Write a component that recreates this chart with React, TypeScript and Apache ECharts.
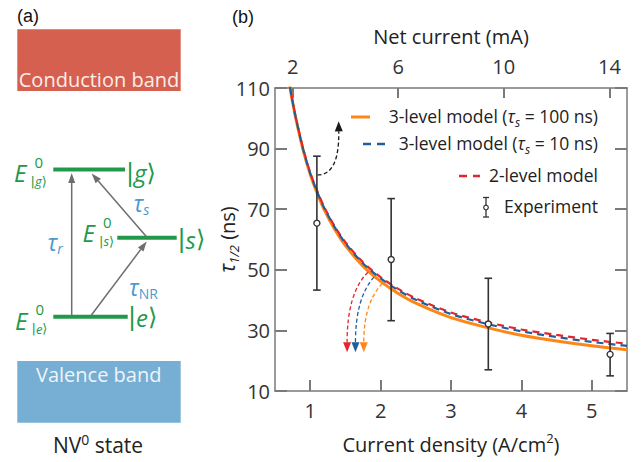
import React, { useEffect, useRef } from "react";
import * as echarts from "echarts";

// ---------- data ----------
const densityTicks = [1, 2, 3, 4, 5]; // bottom axis, A/cm²
const netCurrentTicks = [2, 6, 10, 14]; // top axis, mA
const densityToCurrent = 8 / 3; // mA per A/cm² (paired axes)

const modelDensity = [0.7, 0.75, 0.8, 0.9, 1.0, 1.1, 1.2, 1.35, 1.5, 1.75, 2.0, 2.25, 2.5, 3.0, 3.5, 4.0, 4.5, 5.0, 5.5];
const tauThreeLevel100 = [112, 105.3, 99.5, 89.5, 81.5, 75.2, 69.8, 63.3, 58, 51.2, 46.2, 42.2, 39, 34.2, 31, 28.4, 26.5, 24.9, 23.6];
const tauThreeLevel10 = [112, 105.5, 99.7, 89.8, 81.9, 75.7, 70.4, 64, 58.8, 52.1, 47.2, 43.3, 40.1, 35.4, 32.2, 29.7, 27.8, 26.2, 24.9];
const tauTwoLevel = [112, 105.6, 99.8, 90, 82.1, 76, 70.7, 64.3, 59.1, 52.5, 47.6, 43.7, 40.6, 35.9, 32.8, 30.3, 28.5, 26.9, 25.6];

const expDensity = [1.095, 2.15, 3.53, 5.26];
const expTau = [65.4, 53.4, 32.1, 22.1];
const expLow = [43.3, 33.2, 17, 15];
const expHigh = [87.5, 73.5, 47.2, 29];

// annotation arrows in data coordinates: start, control, tip
const arrowStart = [[1.103, 81.3], [1.819, 49.2], [1.905, 47.6], [2.024, 45.5]];
const arrowCtrl = [[1.414, 81.2], [1.524, 42.3], [1.643, 40.7], [1.761, 39.1]];
const arrowTip = [[1.404, 99.0], [1.524, 22.8], [1.643, 22.8], [1.761, 22.8]];

const F = "'Open Sans', 'DejaVu Sans', sans-serif";
const DJ = "'DejaVu Sans', sans-serif";
const ORANGE = "#ff8616";
const BLUE = "#1f5f9b";
const RED = "#e3262c";
const GREEN = "#22994a";
const TAU_BLUE = "#4e98cf";
const AXIS = "#7a7a7a";
const arrowColors = ["#1a1a1a", RED, BLUE, ORANGE];

const zip = (xs: number[], ys: number[]) => xs.map((x, i) => [x, ys[i]]);

function arrowHead(tx: number, ty: number, cx: number, cy: number, L: number, W: number) {
  let dx = tx - cx, dy = ty - cy;
  const len = Math.hypot(dx, dy) || 1;
  dx /= len; dy /= len;
  const bx = tx - dx * L, by = ty - dy * L;
  return {
    base: [bx, by],
    points: [[tx, ty], [bx - dy * W, by + dx * W], [bx + dy * W, by - dx * W]],
  };
}

function txt(x: number, y: number, text: string, size: number, fill: string, extra: any = {}) {
  return {
    type: "text",
    x, y,
    silent: true,
    style: {
      text, fontSize: size, fontFamily: F, fill,
      align: "left", verticalAlign: "middle",
      ...extra,
    },
  };
}

// ket |x⟩ as rich text: bars from DejaVu (narrow), letter italic
function ket(x: number, y: number, letter: string, size: number) {
  return {
    type: "text", x, y, silent: true,
    style: {
      text: `{b||}{l|${letter}}{b|⟩}`, fontSize: size, fontFamily: F, fill: GREEN,
      align: "left", verticalAlign: "middle", lineHeight: size * 1.3,
      rich: {
        b: { fontSize: size, fontFamily: DJ, fill: GREEN, lineHeight: size * 1.3 },
        l: { fontSize: size, fontFamily: F, fontStyle: "italic", fill: GREEN, lineHeight: size * 1.3 },
      },
    },
  };
}

function panelA() {
  const els: any[] = [];
  // bands
  els.push({ type: "rect", shape: { x: 17.3, y: 29.3, width: 163.4, height: 61.7 }, style: { fill: "#d6604f" } });
  els.push(txt(99, 79.5, "Conduction band", 20, "#fbeee9", { align: "center" }));
  els.push({ type: "rect", shape: { x: 17.3, y: 361, width: 163.4, height: 61.7 }, style: { fill: "#77aed3" } });
  els.push(txt(98.7, 374.5, "Valence band", 20, "#eef4f9", { align: "center" }));
  // levels
  const lvl = (x1: number, x2: number, y: number) => ({ type: "line", shape: { x1, y1: y, x2, y2: y }, style: { stroke: GREEN, lineWidth: 4 } });
  els.push(lvl(53.3, 125, 169.5), lvl(117.3, 176.7, 237.7), lvl(53.3, 127.7, 316.7));
  // gray arrows
  const garrow = (x1: number, y1: number, x2: number, y2: number) => {
    const h = arrowHead(x2, y2, x1, y1, 10, 3.5);
    return [
      { type: "line", shape: { x1, y1, x2: h.base[0], y2: h.base[1] }, style: { stroke: "#6e6e6e", lineWidth: 1.5 } },
      { type: "polygon", shape: { points: h.points }, style: { fill: "#6e6e6e" } },
    ];
  };
  els.push(...garrow(71.7, 316, 71.7, 173), ...garrow(146.7, 237, 91.7, 173.5), ...garrow(90.7, 316, 146.7, 241.5));
  // E labels
  const eLabel = (x: number, yc: number, letter: string) => [
    txt(x, yc, "E", 24, GREEN, { fontStyle: "italic" }),
    txt(x + 20.5, yc - 11, "0", 15, GREEN),
    ket(x + 16.5, yc + 8.5, letter, 13),
  ];
  els.push(...eLabel(14, 172.5, "g"), ...eLabel(82.5, 232.5, "s"), ...eLabel(15, 320, "e"));
  // kets
  els.push(ket(126, 172.5, "g", 24), ket(177.5, 239, "s", 24), ket(128, 317, "e", 24));
  // tau labels (tau + subscript in one rich text)
  const tau = (x: number, y: number, sub: string, italicSub: boolean) => ({
    type: "text", x, y, silent: true,
    style: {
      text: `{t|τ}{s|${sub}}`, fontSize: 22, fontFamily: F, fill: TAU_BLUE, align: "left", verticalAlign: "middle", lineHeight: 26,
      rich: {
        t: { fontSize: 23, fontFamily: F, fontStyle: "italic", fill: TAU_BLUE, lineHeight: 26 },
        s: { fontSize: 14, fontFamily: F, fontStyle: italicSub ? "italic" : "normal", fill: TAU_BLUE, lineHeight: 14, verticalAlign: "bottom" },
      },
    },
  });
  els.push(tau(133.5, 203, "s", true), tau(47.5, 242, "r", true), tau(129, 287, "NR", false));
  // NV0 state
  els.push({
    type: "text", x: 98, y: 445, silent: true,
    style: {
      text: "NV{sup|0} state", fontSize: 21, fontFamily: F, fill: "#222", align: "center", verticalAlign: "middle", lineHeight: 26,
      rich: { sup: { fontSize: 14, fontFamily: F, fill: "#222", lineHeight: 14, verticalAlign: "top" } },
    },
  });
  // panel letters
  els.push(txt(17, 16, "(a)", 18, "#111", { fontFamily: "'Liberation Sans', Arial, sans-serif" }));
  els.push(txt(232, 17, "(b)", 18, "#111", { fontFamily: "'Liberation Sans', Arial, sans-serif" }));
  return els;
}

function legendEls() {
  const els: any[] = [];
  const FS = 17.5;
  const rich = {
    t: { fontStyle: "italic", fontSize: FS, fontFamily: F, fill: "#222", lineHeight: 24 },
    s: { fontStyle: "italic", fontSize: 12, fontFamily: F, fill: "#222", lineHeight: 12, verticalAlign: "bottom" },
  };
  const label = (y: number, text: string) => ({
    type: "text", x: 598, y, silent: true,
    style: { text, fontSize: FS, fontFamily: F, fill: "#222", align: "right", verticalAlign: "middle", lineHeight: 24, rich },
  });
  els.push({ type: "line", shape: { x1: 351, y1: 117, x2: 370, y2: 117 }, style: { stroke: ORANGE, lineWidth: 3 } });
  els.push(label(116, "3-level model ({t|τ}{s|s} = 100 ns)"));
  els.push({ type: "line", shape: { x1: 363, y1: 144, x2: 386, y2: 144 }, style: { stroke: BLUE, lineWidth: 2.5, lineDash: [8, 6] } });
  els.push(label(143, "3-level model ({t|τ}{s|s} = 10 ns)"));
  els.push({ type: "line", shape: { x1: 459, y1: 176, x2: 480, y2: 176 }, style: { stroke: RED, lineWidth: 2.5, lineDash: [8, 6] } });
  els.push(label(175, "2-level model"));
  const ex = 486;
  els.push({ type: "line", shape: { x1: ex, y1: 197.5, x2: ex, y2: 217 }, style: { stroke: "#333", lineWidth: 1.3 } });
  els.push({ type: "line", shape: { x1: ex - 3, y1: 197.5, x2: ex + 3, y2: 197.5 }, style: { stroke: "#333", lineWidth: 1.3 } });
  els.push({ type: "line", shape: { x1: ex - 3, y1: 217, x2: ex + 3, y2: 217 }, style: { stroke: "#333", lineWidth: 1.3 } });
  els.push({ type: "circle", shape: { cx: ex, cy: 207.5, r: 2.3 }, style: { fill: "#fff", stroke: "#333", lineWidth: 1.2 } });
  els.push(label(206, "Experiment"));
  return els;
}

export default function App() {
  const ref = useRef<HTMLDivElement>(null);
  useEffect(() => {
    if (!ref.current) return;
    const chart = echarts.init(ref.current, undefined, { renderer: "svg" });
    const labelStyle = { fontSize: 20, fontFamily: F, color: "#333" };
    const axisLine = { show: true, onZero: false, lineStyle: { color: AXIS, width: 1.5 } };
    const tickStyle = { color: AXIS, width: 2 };
    chart.setOption({
      animation: false,
      backgroundColor: "#fff",
      grid: { left: 275, top: 88, width: 352, height: 313, containLabel: false },
      xAxis: [
        {
          type: "value", position: "bottom", min: 0.5, max: 5.5,
          name: "Current density (A/cm{sup|2})", nameLocation: "middle", nameGap: 40, nameMoveOverlap: false,
          nameTextStyle: {
            fontSize: 20, fontFamily: F, color: "#222", lineHeight: 26,
            rich: { sup: { fontSize: 13, fontFamily: F, color: "#222", lineHeight: 13, verticalAlign: "top" } },
          },
          axisLine, splitLine: { show: false },
          axisTick: { inside: true, length: 11, customValues: densityTicks, lineStyle: tickStyle },
          axisLabel: { ...labelStyle, customValues: densityTicks, margin: 9 },
        },
        {
          type: "value", position: "top", min: 0.5 * densityToCurrent, max: 5.5 * densityToCurrent,
          name: "Net current (mA)", nameLocation: "middle", nameGap: 42, nameMoveOverlap: false,
          nameTextStyle: { fontSize: 20, fontFamily: F, color: "#222" },
          axisLine, splitLine: { show: false },
          axisTick: { inside: true, length: 10, customValues: netCurrentTicks, lineStyle: tickStyle },
          axisLabel: { ...labelStyle, customValues: netCurrentTicks, margin: 12 },
        },
      ],
      yAxis: [
        {
          type: "value", position: "left", min: 10, max: 110, interval: 20,
          name: "{t|τ}{s|1/2} (ns)", nameLocation: "middle", nameRotate: 90, nameGap: 35, nameMoveOverlap: false,
          nameTextStyle: {
            fontSize: 20, fontFamily: F, color: "#222", lineHeight: 26,
            rich: {
              t: { fontStyle: "italic", fontSize: 21, fontFamily: F, color: "#222", lineHeight: 26 },
              s: { fontStyle: "italic", fontSize: 13, fontFamily: F, color: "#222", lineHeight: 13, verticalAlign: "bottom" },
            },
          },
          axisLine, splitLine: { show: false },
          axisTick: { inside: true, length: 12, lineStyle: tickStyle },
          axisLabel: { ...labelStyle, margin: 5, showMinLabel: true, showMaxLabel: true },
        },
        {
          type: "value", position: "right", min: 10, max: 110, interval: 20,
          axisLine, splitLine: { show: false },
          axisTick: { inside: true, length: 12, lineStyle: tickStyle },
          axisLabel: { show: false },
        },
      ],
      series: [
        {
          type: "line", name: "3-level model (τs = 100 ns)", data: zip(modelDensity, tauThreeLevel100),
          showSymbol: false, smooth: 0.3, lineStyle: { color: ORANGE, width: 3 }, z: 2,
        },
        {
          type: "line", name: "2-level model", data: zip(modelDensity, tauTwoLevel),
          showSymbol: false, smooth: 0.3, lineStyle: { color: RED, width: 2.2, type: [7, 5] }, z: 3,
        },
        {
          type: "line", name: "3-level model (τs = 10 ns)", data: zip(modelDensity, tauThreeLevel10),
          showSymbol: false, smooth: 0.3, lineStyle: { color: BLUE, width: 2.2, type: [7, 5], dashOffset: 6 }, z: 4,
        },
        {
          type: "custom", name: "arrows", silent: true, z: 5,
          data: arrowStart.map((s, i) => [s[0], s[1], arrowCtrl[i][0], arrowCtrl[i][1], arrowTip[i][0], arrowTip[i][1]]),
          encode: { x: [0, 2, 4], y: [1, 3, 5] },
          renderItem: (params: any, api: any) => {
            const s = api.coord([api.value(0), api.value(1)]);
            const c = api.coord([api.value(2), api.value(3)]);
            const t = api.coord([api.value(4), api.value(5)]);
            const color = arrowColors[params.dataIndex];
            const h = arrowHead(t[0], t[1], c[0], c[1], 10, 4);
            return {
              type: "group",
              children: [
                {
                  type: "bezierCurve",
                  shape: { x1: s[0], y1: s[1], cpx1: c[0], cpy1: c[1], x2: h.base[0], y2: h.base[1] },
                  style: { stroke: color, lineWidth: 1.3, lineDash: [4, 2.5], fill: "none" },
                },
                { type: "polygon", shape: { points: h.points }, style: { fill: color } },
              ],
            };
          },
        },
        {
          type: "custom", name: "Experiment", silent: true, z: 6,
          data: expDensity.map((x, i) => [x, expTau[i], expLow[i], expHigh[i]]),
          encode: { x: 0, y: [1, 2, 3] },
          renderItem: (_params: any, api: any) => {
            const p = api.coord([api.value(0), api.value(1)]);
            const lo = api.coord([api.value(0), api.value(2)]);
            const hi = api.coord([api.value(0), api.value(3)]);
            const cap = 3.8;
            const st = { stroke: "#333", lineWidth: 1.6 };
            return {
              type: "group",
              children: [
                { type: "line", shape: { x1: p[0], y1: hi[1], x2: p[0], y2: lo[1] }, style: st },
                { type: "line", shape: { x1: p[0] - cap, y1: hi[1], x2: p[0] + cap, y2: hi[1] }, style: st },
                { type: "line", shape: { x1: p[0] - cap, y1: lo[1], x2: p[0] + cap, y2: lo[1] }, style: st },
                { type: "circle", shape: { cx: p[0], cy: p[1], r: 3 }, style: { fill: "#fff", stroke: "#333", lineWidth: 1.4 } },
              ],
            };
          },
        },
      ],
      graphic: [...panelA(), ...legendEls()],
    });
    return () => chart.dispose();
  }, []);
  return <div ref={ref} style={{ position: "absolute", left: 0, top: 0, width: 644, height: 462, background: "#fff" }} />;
}
